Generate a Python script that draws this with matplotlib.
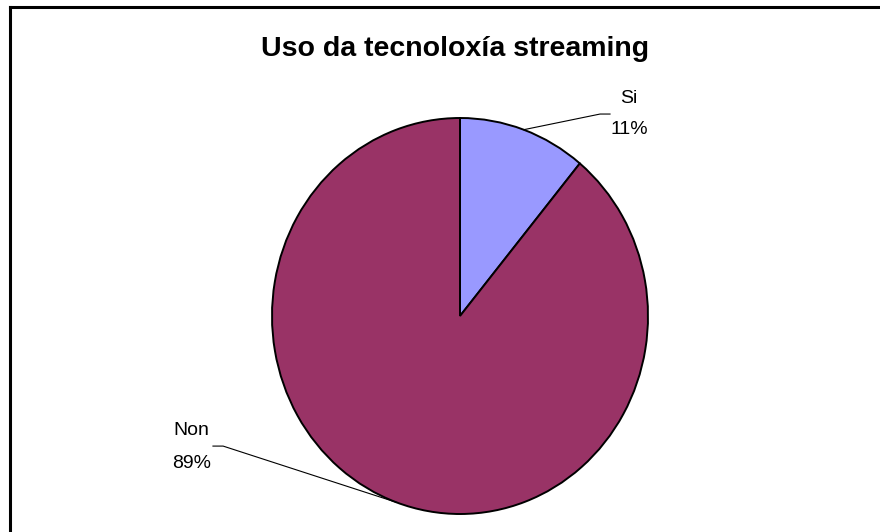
import numpy as np
import matplotlib
matplotlib.use("Agg")
import matplotlib.pyplot as plt
from matplotlib.lines import Line2D

plt.rcParams['font.family'] = ['Liberation Sans', 'DejaVu Sans']

# Survey answers
categories = ["Si", "Non"]
percentages = [11, 89]
colors = ["#9999FF", "#993366"]

W, H = 880, 532
fig = plt.figure(figsize=(W / 100, H / 100), dpi=100)

# Chart frame (top and left edges)
fig.add_artist(Line2D([10 / W, 1.0], [1 - 7 / H, 1 - 7 / H], color="black", lw=2.2,
                      transform=fig.transFigure))
fig.add_artist(Line2D([10 / W, 10 / W], [1 - 7 / H, 0.0], color="black", lw=2.2,
                      transform=fig.transFigure))

fig.text(455 / W, 1 - 49 / H, "Uso da tecnoloxía streaming", ha="center", va="center",
         fontsize=20.5, fontweight="bold")

ax = fig.add_axes([272 / W, 18 / H, 376 / W, 396 / H])
wedges, _ = ax.pie(percentages, colors=colors, startangle=90, counterclock=False,
                   wedgeprops=dict(edgecolor="black", linewidth=1.4))
ax.set_aspect("auto")
ax.set_xlim(-1, 1)
ax.set_ylim(-1, 1)
ax.axis("off")

# Labels with leader lines from the middle of each wedge
label_pos = {"Si": (0.90, 1.10, 0.94), "Non": (-1.43, -0.58, -0.747)}
elbows = {"Si": ((0.745, 1.02), (0.798, 1.02)), "Non": ((-1.26, -0.657), (-1.314, -0.657))}
for w, name, pct in zip(wedges, categories, percentages):
    mid = np.deg2rad((w.theta1 + w.theta2) / 2)
    sx, sy = np.cos(mid), np.sin(mid)
    (ex, ey), (tx, ty) = elbows[name]
    ax.plot([sx, ex, tx], [sy, ey, ty], color="black", lw=0.8, clip_on=False)
    lx, ny, py = label_pos[name]
    ax.text(lx, ny, name, ha="center", va="center", fontsize=14, clip_on=False)
    ax.text(lx, py, f"{pct}%", ha="center", va="center", fontsize=14, clip_on=False)

fig.savefig("out.png", dpi=100)
